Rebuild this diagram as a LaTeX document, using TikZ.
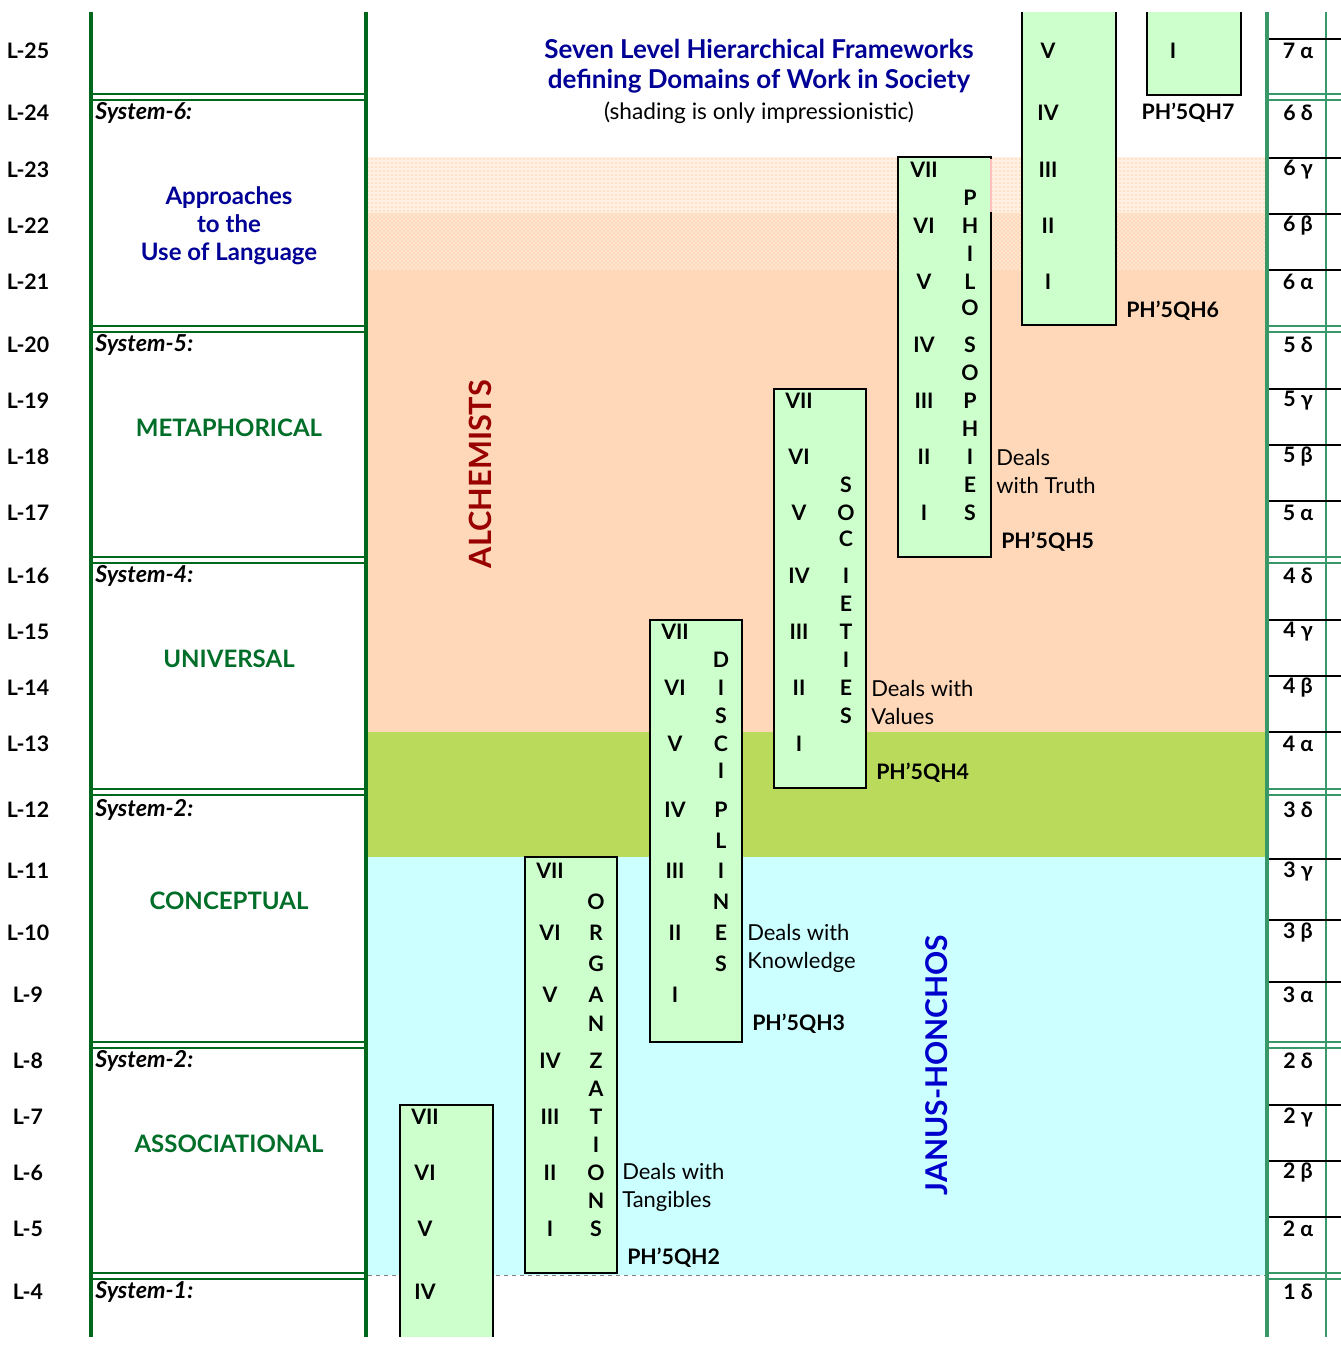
\documentclass[tikz,border=0pt]{standalone}
\usepackage{fontspec}
\setmainfont{Lato}
\usetikzlibrary{patterns}

\definecolor{framegreen}{RGB}{0,104,28}
\definecolor{rightgreen}{RGB}{56,152,104}
\definecolor{namegreen}{RGB}{0,110,40}
\definecolor{titleblue}{RGB}{0,0,150}
\definecolor{janusblue}{RGB}{0,0,204}
\definecolor{alchred}{RGB}{153,0,0}
\definecolor{boxgreen}{RGB}{204,255,204}
\definecolor{bandcyan}{RGB}{204,255,255}
\definecolor{bandorange}{RGB}{255,216,186}
\definecolor{bandpale}{RGB}{255,240,226}
\definecolor{bandmid}{RGB}{255,230,208}
\definecolor{dotorange}{RGB}{255,175,115}
\definecolor{bandgreen}{RGB}{185,218,90}

\tikzset{
  every node/.style={inner sep=0pt, font=\fontsize{16}{18}\selectfont\bfseries},
  sys/.style={anchor=west, font=\fontsize{17.5}{19}\selectfont\bfseries\itshape},
  kind/.style={text=namegreen, font=\fontsize{18}{21}\selectfont\bfseries},
  domainbox/.style={draw=black, line width=1.5pt, fill=boxgreen},
  deals/.style={anchor=west, align=left, font=\fontsize{16.5}{21}\selectfont},
  phlabel/.style={anchor=west},
  celline/.style={black, line width=1.2pt},
}

\begin{document}
\begin{tikzpicture}[x=0.75pt,y=-0.75pt]
\useasboundingbox (0,0) rectangle (1341,1347);

% shading bands
\fill[bandpale] (368,157) rectangle (1265,213);
\fill[pattern=dots, pattern color=dotorange] (368,157) rectangle (1265,213);
\fill[bandmid] (368,213) rectangle (1265,270);
\fill[pattern=crosshatch dots, pattern color=dotorange] (368,213) rectangle (1265,270);
\fill[bandorange] (368,270) rectangle (1265,732);
\fill[bandgreen] (368,732) rectangle (1265,857);
\fill[bandcyan] (368,857) rectangle (1265,1275);
\draw[gray, dashed, line width=.5pt] (368,1275) -- (1265,1275);

% left frame
\draw[framegreen, line width=3pt] (91,12) -- (91,1337);
\draw[framegreen, line width=3pt] (366,12) -- (366,1337);
\foreach \y in {97,329,560,792,1045,1276} {
  \draw[framegreen, line width=2.2pt] (91,\y-3) -- (366,\y-3);
  \draw[framegreen, line width=2.2pt] (91,\y+3) -- (366,\y+3);
}

% right frame
\draw[rightgreen, line width=3pt] (1267,12) -- (1267,1337);
\draw[rightgreen, line width=1.5pt] (1326,12) -- (1326,1337);
\foreach \y in {39,158,214,270,389,445,501,620,676,732,859,920,982,1105,1161,1217}
  \draw[celline] (1269,\y) -- (1341,\y);
\foreach \y in {97,329,560,792,1045,1276} {
  \draw[rightgreen, line width=2.2pt] (1269,\y-3) -- (1341,\y-3);
  \draw[rightgreen, line width=2.2pt] (1269,\y+3) -- (1341,\y+3);
}

% levels
\foreach \n/\y in {25/51,24/113,23/170,22/226,21/282,20/345,19/401,18/457,17/513,16/576,15/632,14/688,13/744,12/810,11/871,10/933,9/995,8/1061,7/1117,6/1173,5/1229,4/1292}
  \node (L\n) at (28,\y) {L-\n};
\foreach \t/\y [count=\i] in {7 α/51,6 δ/113,6 γ/170,6 β/226,6 α/282,5 δ/345,5 γ/401,5 β/457,5 α/513,4 δ/576,4 γ/632,4 β/688,4 α/744,3 δ/810,3 γ/871,3 β/933,3 α/995,2 δ/1061,2 γ/1117,2 β/1173,2 α/1229,1 δ/1292}
  \node (R\i) at (1298,\y) {\t};

% systems
\node[sys] (s6) at (95,113) {System-6:};
\node[kind, text=titleblue, align=center] (lang) at (229,226) {Approaches\\to the\\Use of Language};
\node[sys] (s5) at (95,345) {System-5:};
\node[kind] (meta) at (229,428) {METAPHORICAL};
\node[sys] (s4) at (95,576) {System-4:};
\node[kind] (univ) at (229,659) {UNIVERSAL};
\node[sys] (s3) at (95,810) {System-2:};
\node[kind] (conc) at (229,901) {CONCEPTUAL};
\node[sys] (s2) at (95,1061) {System-2:};
\node[kind] (assoc) at (229,1144) {ASSOCIATIONAL};
\node[sys] (s1) at (95,1292) {System-1:};

% title
\node[text=titleblue, align=center, font=\fontsize{19.5}{22.5}\selectfont\bfseries] (title) at (759,66)
  {Seven Level Hierarchical Frameworks\\defining Domains of Work in Society};
\node[font=\fontsize{17}{18}\selectfont] (note) at (759,113) {(shading is only impressionistic)};

\node[rotate=90, text=alchred, font=\fontsize{23}{25}\selectfont\bfseries] (alch) at (480,474) {ALCHEMISTS};
\node[rotate=90, text=janusblue, font=\fontsize{22.5}{24}\selectfont\bfseries] (janus) at (937,1065) {JANUS-HONCHOS};

% PH'5QH2 lower part
\fill[boxgreen] (400,1337) rectangle (493,1105);
\draw[domainbox, fill=none] (400,1337) -- (400,1105) -- (493,1105) -- (493,1337);
\foreach \r/\y in {VII/1117,VI/1173,V/1229,IV/1292}
  \node at (425,\y) {\r};

% organizations
\draw[domainbox] (525,857) rectangle (617,1273);
\foreach \r/\y in {VII/871,VI/933,V/995,IV/1061,III/1117,II/1173,I/1229}
  \node at (550,\y) {\r};
\foreach \c/\y in {O/902,R/933,G/964,A/995,N/1024,Z/1061,A/1089,T/1117,I/1145,O/1173,N/1201,S/1229}
  \node at (596,\y) {\c};
\node[deals] (d2) at (622,1187) {Deals with\\Tangibles};
\node[phlabel] (ph2) at (627,1258) {PH'5QH2};

% disciplines
\draw[domainbox] (650,620) rectangle (742,1042);
\foreach \r/\y in {VII/632,VI/688,V/744,IV/810,III/871,II/933,I/995}
  \node at (675,\y) {\r};
\foreach \c/\y in {D/660,I/688,S/716,C/744,I/771,P/810,L/841,I/871,N/902,E/933,S/964}
  \node at (721,\y) {\c};
\node[deals] (d3) at (747,948) {Deals with\\Knowledge};
\node[phlabel] (ph3) at (752,1024) {PH'5QH3};

% societies
\draw[domainbox] (774,389) rectangle (866,788);
\foreach \r/\y in {VII/401,VI/457,V/513,IV/576,III/632,II/688,I/744}
  \node at (799,\y) {\r};
\foreach \c/\y in {S/485,O/513,C/539,I/576,E/604,T/632,I/660,E/688,S/716}
  \node at (846,\y) {\c};
\node[deals] (d4) at (871,702) {Deals with\\Values};
\node[phlabel] (ph4) at (876,773) {PH'5QH4};

% philosophies
\draw[domainbox] (898,157) rectangle (991,557);
\draw[pink, line width=1.5pt] (991,159) -- (991,212);
\foreach \r/\y in {VII/170,VI/226,V/282,IV/345,III/401,II/457,I/513}
  \node at (924,\y) {\r};
\foreach \c/\y in {P/198,H/226,I/254,L/282,O/308,S/345,O/373,P/401,H/429,I/457,E/485,S/513}
  \node at (970,\y) {\c};
\node[deals] (d5) at (996,471) {Deals\\with Truth};
\node[phlabel] (ph5) at (1001,542) {PH'5QH5};

% PH'5QH6
\fill[boxgreen] (1022,12) rectangle (1116,325);
\draw[domainbox, fill=none] (1022,12) -- (1022,325) -- (1116,325) -- (1116,12);
\foreach \r/\y in {V/51,IV/113,III/170,II/226,I/282}
  \node at (1048,\y) {\r};
\node[phlabel] (ph6) at (1126,311) {PH'5QH6};

% PH'5QH7
\fill[boxgreen] (1147,12) rectangle (1241,95);
\draw[domainbox, fill=none] (1147,12) -- (1147,95) -- (1241,95) -- (1241,12);
\node (r7) at (1173,51) {I};
\node (ph7) at (1188,113) {PH'5QH7};
\end{tikzpicture}
\end{document}
